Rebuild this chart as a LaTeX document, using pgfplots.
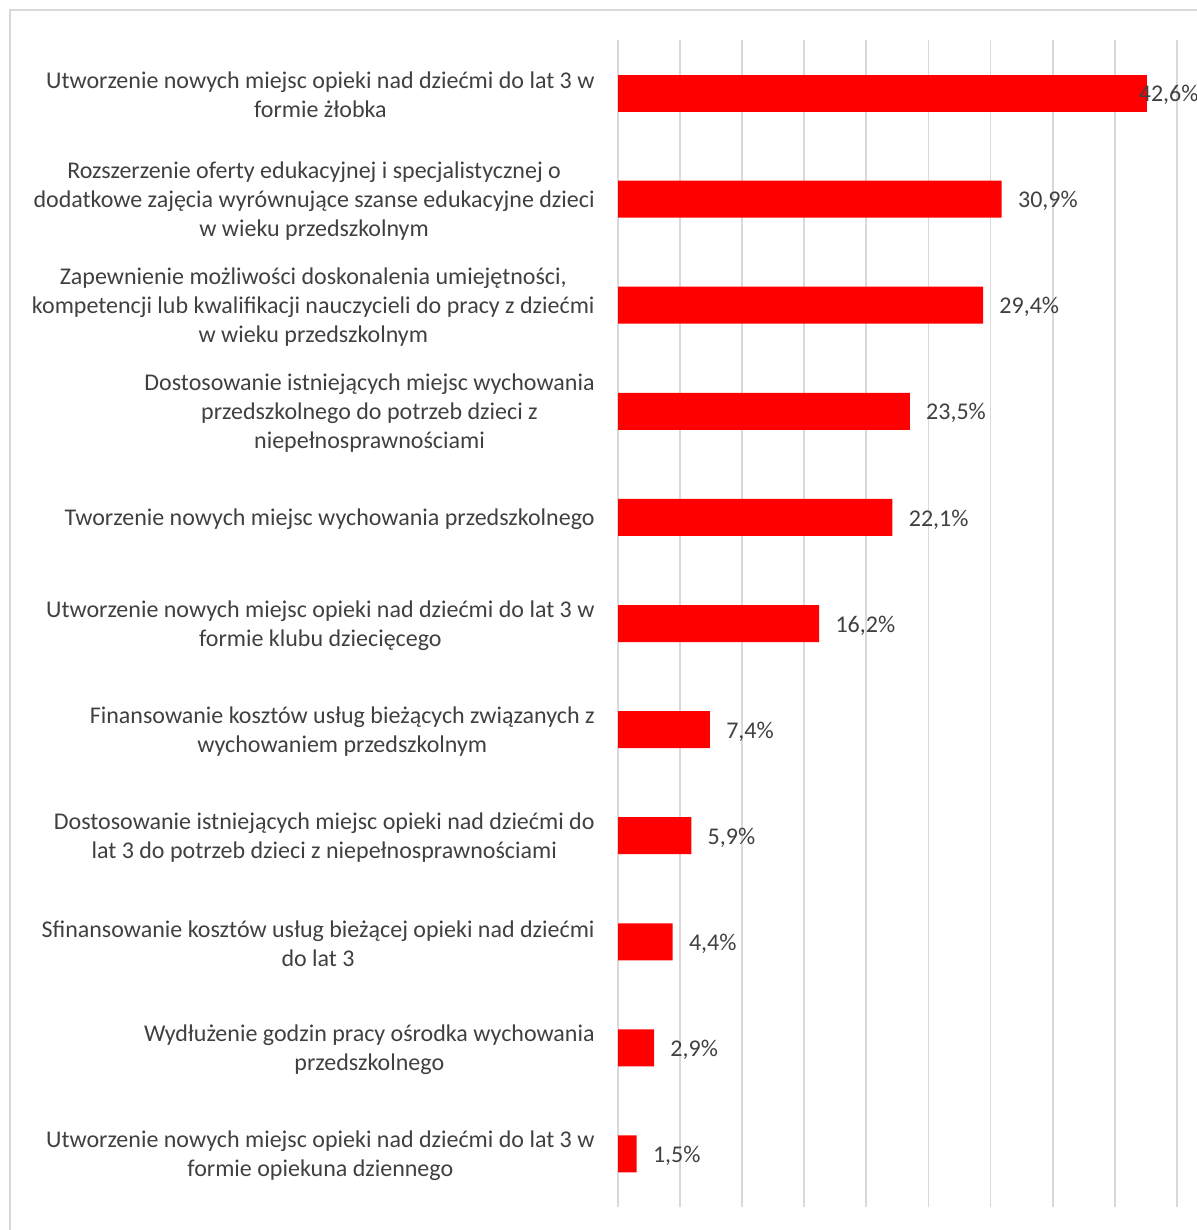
\documentclass[border=0pt]{standalone}
\usepackage{pgfplots}
\pgfplotsset{compat=1.18}
\usepackage{fontspec}
\setmainfont{Carlito}
\definecolor{txt}{HTML}{404040}
\definecolor{grd}{HTML}{D9D9D9}
\definecolor{barred}{HTML}{FF0000}
\newcommand{\lblfont}{\fontsize{12pt}{14.5pt}\selectfont}
\begin{document}
\begin{tikzpicture}
\path[use as bounding box] (0pt,0pt) rectangle (598pt,615pt);
\draw[grd, line width=1pt] (5pt,-20pt) -- (5pt,610pt) -- (640pt,610pt);
\begin{axis}[
  at={(309pt,11.5pt)}, anchor=south west,
  scale only axis, width=279.4pt, height=583.5pt,
  xmin=0, xmax=45, ymin=-0.5, ymax=10.5, y dir=reverse,
  xtick={0,5,...,45}, xticklabel style={opacity=0},
  xmajorgrids, grid style={grd, line width=0.9pt},
  axis x line*=bottom, axis y line*=left, axis line style={draw=none},
  major tick length=0pt,
  ytick={0,...,10},
  yticklabels={
    {Utworzenie nowych miejsc opieki nad dziećmi do lat 3 w\\formie żłobka},
    {Rozszerzenie oferty edukacyjnej i specjalistycznej o\\dodatkowe zajęcia wyrównujące szanse edukacyjne dzieci\\w wieku przedszkolnym},
    {Zapewnienie możliwości doskonalenia umiejętności,\\kompetencji lub kwalifikacji nauczycieli do pracy z dziećmi\\w wieku przedszkolnym},
    {Dostosowanie istniejących miejsc wychowania\\przedszkolnego do potrzeb dzieci z\\niepełnosprawnościami},
    {Tworzenie nowych miejsc wychowania przedszkolnego},
    {Utworzenie nowych miejsc opieki nad dziećmi do lat 3 w\\formie klubu dziecięcego},
    {Finansowanie kosztów usług bieżących związanych z\\wychowaniem przedszkolnym},
    {Dostosowanie istniejących miejsc opieki nad dziećmi do\\lat 3 do potrzeb dzieci z niepełnosprawnościami},
    {Sfinansowanie kosztów usług bieżącej opieki nad dziećmi\\do lat 3},
    {Wydłużenie godzin pracy ośrodka wychowania\\przedszkolnego},
    {Utworzenie nowych miejsc opieki nad dziećmi do lat 3 w\\formie opiekuna dziennego}},
  yticklabel style={font=\lblfont, text=txt, align=center, anchor=east, inner sep=0pt, xshift=-11.5pt, yshift=-1pt},
  clip=false,
  point meta=x,
  nodes near coords={\pgfmathprintnumber[assume math mode=true,fixed,fixed zerofill,precision=1,use comma]{\pgfplotspointmeta}\%},
]
\addplot[xbar, bar width=18.5pt, bar shift=0pt, fill=barred, draw=none,
  nodes near coords style={font=\lblfont, text=txt, anchor=west, inner sep=0pt, xshift=8pt, yshift=-1pt}]
  coordinates {(30.9,1) (29.4,2) (23.5,3) (22.1,4) (16.2,5) (7.4,6) (5.9,7) (4.4,8) (2.9,9) (1.5,10)};
\addplot[xbar, bar width=18.5pt, bar shift=0pt, fill=barred, draw=none,
  nodes near coords style={font=\lblfont, text=txt, anchor=west, inner sep=0pt, xshift=-4.25pt, yshift=-1pt}]
  coordinates {(42.6,0)};
\end{axis}
\end{tikzpicture}
\end{document}
